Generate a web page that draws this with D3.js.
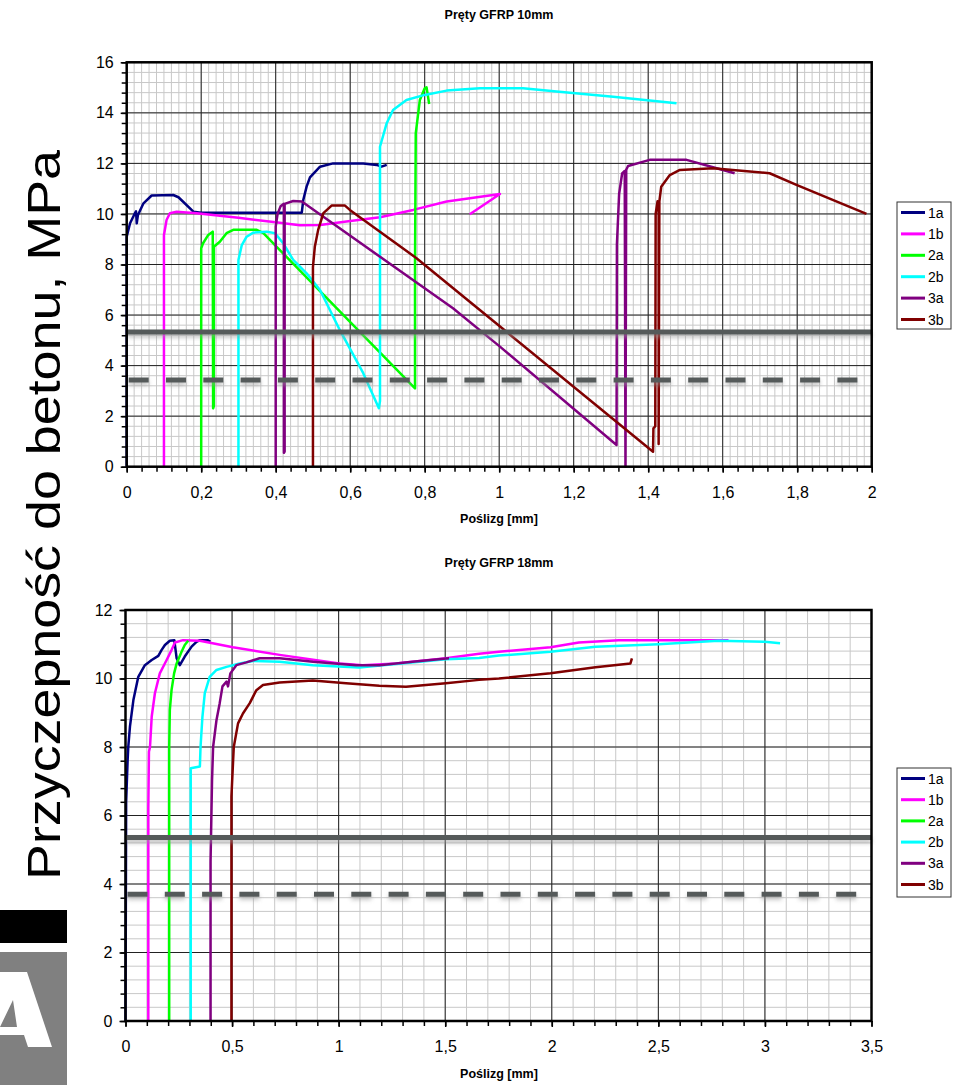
<!DOCTYPE html>
<html>
<head>
<meta charset="utf-8">
<script src="https://cdn.jsdelivr.net/npm/d3@7"></script>
<style>
  body { margin: 0; background: #fff; }
  svg { display: block; font-family: "Liberation Sans", Arial, sans-serif; }
</style>
</head>
<body>
<svg id="fig" width="965" height="1085"></svg>
<script>
var seriesNames = ["1a", "1b", "2a", "2b", "3a", "3b"];
var seriesColors = ["#000080", "#ff00ff", "#00ff00", "#00ffff", "#800080", "#800000"];

// Pręty GFRP 10mm  [slip mm, bond MPa]
var top1a = [[0,0],[0,9.1],[0.009,9.63],[0.022,10.03],[0.025,10.1],[0.027,9.63],[0.03,9.95],[0.045,10.42],[0.067,10.73],[0.125,10.75],[0.139,10.66],[0.179,10.09],[0.2,10.05],[0.47,10.05],[0.474,10.55],[0.483,11.08],[0.492,11.45],[0.519,11.87],[0.554,12.0],[0.635,12.0],[0.671,11.94],[0.684,11.87],[0.698,11.94]];
var top1b = [[0.1,0],[0.1,9.17],[0.107,9.76],[0.116,10.03],[0.134,10.09],[0.188,10.03],[0.3,9.85],[0.4,9.67],[0.465,9.55],[0.519,9.56],[0.59,9.7],[0.68,9.87],[0.769,10.16],[0.859,10.49],[0.95,10.68],[1.002,10.79],[0.921,9.99]];
var top2a = [[0.2,0],[0.2,8.64],[0.205,8.84],[0.219,9.17],[0.231,9.3],[0.232,2.31],[0.234,2.4],[0.234,8.7],[0.25,8.9],[0.268,9.24],[0.286,9.37],[0.349,9.37],[0.367,9.24],[0.402,8.71],[0.774,3.1],[0.774,8],[0.776,13.19],[0.787,14.51],[0.8,14.97],[0.805,15.01],[0.812,14.35]];
var top2b = [[0.3,0],[0.3,8.18],[0.309,8.77],[0.322,9.1],[0.34,9.26],[0.376,9.3],[0.398,9.24],[0.42,8.84],[0.447,8.18],[0.483,7.65],[0.519,6.99],[0.572,5.41],[0.635,3.7],[0.677,2.31],[0.68,2.6],[0.68,12.66],[0.698,13.59],[0.715,14.11],[0.751,14.51],[0.8,14.71],[0.859,14.88],[0.948,14.97],[1.064,14.97],[1.154,14.84],[1.306,14.64],[1.476,14.38]];
var top3a = [[0.4,0],[0.4,9.5],[0.405,10.0],[0.413,10.3],[0.422,10.4],[0.422,0.55],[0.424,0.6],[0.424,10.4],[0.447,10.51],[0.47,10.49],[0.876,6.27],[1.002,4.75],[1.315,0.86],[1.316,8.8],[1.322,10.8],[1.33,11.6],[1.337,11.7],[1.339,0],[1.341,11.75],[1.346,11.9],[1.404,12.14],[1.503,12.14],[1.574,11.85],[1.632,11.61]];
var top3b = [[0.5,0],[0.5,7.9],[0.505,8.7],[0.514,9.37],[0.528,10.03],[0.55,10.33],[0.586,10.33],[0.599,10.16],[0.778,8.25],[0.948,6.2],[1.413,0.59],[1.414,1.52],[1.419,1.6],[1.42,10.0],[1.425,10.5],[1.428,10.4],[1.428,0.9],[1.43,10.5],[1.435,11.08],[1.458,11.54],[1.485,11.74],[1.574,11.81],[1.726,11.61],[1.798,11.15],[1.986,10.0]];

// Pręty GFRP 18mm
var bot1a = [[0,0],[0.003,6.4],[0.01,7.62],[0.013,8.0],[0.021,8.6],[0.037,9.37],[0.06,10.05],[0.091,10.39],[0.123,10.54],[0.154,10.66],[0.169,10.83],[0.185,10.98],[0.208,11.1],[0.229,11.12],[0.235,10.83],[0.24,10.59],[0.255,10.39],[0.278,10.64],[0.31,10.93],[0.333,11.07],[0.349,11.12],[0.387,11.12],[0.398,11.07]];
var bot1b = [[0.107,0],[0.107,6.2],[0.11,7.86],[0.115,8.0],[0.123,8.89],[0.138,9.57],[0.161,10.15],[0.193,10.54],[0.216,10.83],[0.232,11.05],[0.27,11.12],[0.349,11.1],[0.504,10.91],[0.723,10.69],[1.004,10.44],[1.113,10.39],[1.269,10.44],[1.503,10.59],[1.659,10.72],[1.752,10.78],[1.994,10.91],[2.127,11.05],[2.314,11.12],[2.829,11.12]];
var bot2a = [[0.205,0],[0.205,8.0],[0.208,9.08],[0.216,9.66],[0.228,10.15],[0.24,10.44],[0.263,10.78],[0.278,10.98],[0.294,11.1]];
var bot2b = [[0.306,0],[0.306,7.38],[0.349,7.43],[0.352,8.0],[0.361,8.89],[0.372,9.57],[0.395,10.05],[0.427,10.25],[0.474,10.34],[0.536,10.44],[0.598,10.51],[0.723,10.49],[0.879,10.39],[1.097,10.32],[1.269,10.42],[1.503,10.56],[1.659,10.6],[1.752,10.67],[1.994,10.78],[2.205,10.93],[2.501,11.0],[2.782,11.1],[3.0,11.07],[3.071,11.03]];
var bot3a = [[0.399,0],[0.399,4.65],[0.406,7.04],[0.411,8.0],[0.427,8.79],[0.442,9.28],[0.455,9.77],[0.474,9.91],[0.481,9.77],[0.492,10.15],[0.52,10.39],[0.567,10.47],[0.629,10.59],[0.723,10.59],[0.879,10.49],[1.082,10.39],[1.191,10.39],[1.347,10.49],[1.518,10.59]];
var bot3b = [[0.497,0],[0.497,6.55],[0.505,7.62],[0.508,8.0],[0.528,8.69],[0.551,8.98],[0.583,9.28],[0.614,9.66],[0.645,9.81],[0.723,9.88],[0.879,9.94],[1.035,9.86],[1.191,9.79],[1.316,9.76],[1.503,9.86],[1.659,9.96],[1.752,10.0],[1.994,10.15],[2.205,10.33],[2.369,10.44],[2.376,10.59]];

var topXTicks = [0, 0.2, 0.4, 0.6, 0.8, 1, 1.2, 1.4, 1.6, 1.8, 2];
var topYTicks = [0, 2, 4, 6, 8, 10, 12, 14, 16];
var botXTicks = [0, 0.5, 1, 1.5, 2, 2.5, 3, 3.5];
var botYTicks = [0, 2, 4, 6, 8, 10, 12];

// limit lines (solid, dashed) MPa
var topLimits = [5.33, 3.43];
var botLimits = [5.36, 3.7];

var svg = d3.select("#fig");

var defs = svg.append("defs");
var blur = defs.append("filter").attr("id", "blur")
    .attr("filterUnits", "userSpaceOnUse")
    .attr("x", 0).attr("y", 0).attr("width", 965).attr("height", 1085);
blur.append("feGaussianBlur").attr("stdDeviation", 2);

function comma(d) {
  return String(d).replace(".", ",");
}

function drawPanel(o) {
  var x = d3.scaleLinear().domain([0, o.xMax]).range([o.left, o.right]);
  var y = d3.scaleLinear().domain([0, o.yMax]).range([o.bottom, o.top]);
  var g = svg.append("g");

  // minor grid
  var xm = d3.range(0, o.xMax + 1e-9, o.xGrid);
  var ym = d3.range(0, o.yMax + 1e-9, 0.4);
  g.selectAll(".vx").data(xm).enter().append("line")
    .attr("x1", d => x(d)).attr("x2", d => x(d))
    .attr("y1", o.top).attr("y2", o.bottom)
    .attr("stroke", "#c8c8c8").attr("stroke-width", 1);
  g.selectAll(".hy").data(ym).enter().append("line")
    .attr("x1", o.left).attr("x2", o.right)
    .attr("y1", d => y(d)).attr("y2", d => y(d))
    .attr("stroke", "#c8c8c8").attr("stroke-width", 1);
  // major grid
  g.selectAll(".mx").data(o.xTicks).enter().append("line")
    .attr("x1", d => x(d)).attr("x2", d => x(d))
    .attr("y1", o.top).attr("y2", o.bottom)
    .attr("stroke", "#222").attr("stroke-width", 1);
  g.selectAll(".my").data(o.yTicks).enter().append("line")
    .attr("x1", o.left).attr("x2", o.right)
    .attr("y1", d => y(d)).attr("y2", d => y(d))
    .attr("stroke", "#222").attr("stroke-width", 1);

  // series
  var line = d3.line().x(d => x(d[0])).y(d => y(d[1]));
  o.series.forEach(function(s, i) {
    g.append("path").datum(s)
      .attr("d", line)
      .attr("fill", "none")
      .attr("stroke", seriesColors[i])
      .attr("stroke-width", 2.5)
      .attr("stroke-linejoin", "round");
  });

  // limit lines with soft shadow, drawn over the curves
  [[0, null], [1, "20,17.3"]].forEach(function(p) {
    var yy = y(o.limits[p[0]]);
    var x1 = p[1] ? o.left + 2 : o.left;
    var x2 = p[1] ? o.left + 732 : o.right;
    g.append("line")
      .attr("x1", x1).attr("x2", x2).attr("y1", yy + 3).attr("y2", yy + 3)
      .attr("stroke", "#9a9a9a").attr("stroke-width", 5).attr("opacity", 0.6)
      .attr("stroke-dasharray", p[1])
      .attr("filter", "url(#blur)");
    g.append("line")
      .attr("x1", x1).attr("x2", x2).attr("y1", yy).attr("y2", yy)
      .attr("stroke", "#555a5a").attr("stroke-width", 5)
      .attr("stroke-dasharray", p[1]);
  });

  // frame
  g.append("rect")
    .attr("x", o.left).attr("y", o.top)
    .attr("width", o.right - o.left).attr("height", o.bottom - o.top)
    .attr("fill", "none").attr("stroke", "#000").attr("stroke-width", 2.5);

  // axes
  var yAxis = g.append("g").attr("transform", "translate(" + o.left + ",0)")
    .call(d3.axisLeft(y).tickValues(ym).tickSize(5).tickFormat(""));
  var yLab = g.append("g").attr("transform", "translate(" + o.left + ",0)")
    .call(d3.axisLeft(y).tickValues(o.yTicks).tickSize(6).tickPadding(7).tickFormat(comma));
  var xAxis = g.append("g").attr("transform", "translate(0," + o.bottom + ")")
    .call(d3.axisBottom(x).tickValues(d3.range(0, o.xMax + 1e-9, o.xTickStep)).tickSize(5).tickFormat(""));
  var xLab = g.append("g").attr("transform", "translate(0," + o.bottom + ")")
    .call(d3.axisBottom(x).tickValues(o.xTicks).tickSize(6).tickPadding(14).tickFormat(comma));
  [yAxis, yLab, xAxis, xLab].forEach(function(a) {
    a.select(".domain").remove();
    a.selectAll(".tick line").attr("stroke", "#000").attr("stroke-width", 1.5);
    a.selectAll("text").attr("font-size", 16).attr("fill", "#000")
      .attr("font-family", "'Liberation Sans', Arial, sans-serif");
  });

  // titles
  g.append("text").attr("x", 499).attr("y", o.titleY)
    .attr("text-anchor", "middle").attr("font-size", 12.5).attr("font-weight", "bold")
    .text(o.title);
  g.append("text").attr("x", 499).attr("y", o.xLabelY)
    .attr("text-anchor", "middle").attr("font-size", 12.5).attr("font-weight", "bold")
    .text("Poślizg [mm]");

  // legend
  var lg = g.append("g").attr("transform", "translate(" + o.legend[0] + "," + o.legend[1] + ")");
  lg.append("rect").attr("x", 0).attr("y", 0).attr("width", 54).attr("height", o.legend[2])
    .attr("fill", "#fff").attr("stroke", "#333").attr("stroke-width", 1);
  seriesNames.forEach(function(n, i) {
    var yy = 10.5 + i * o.legend[3];
    lg.append("line").attr("x1", 4).attr("x2", 28).attr("y1", yy).attr("y2", yy)
      .attr("stroke", seriesColors[i]).attr("stroke-width", 3);
    lg.append("text").attr("x", 31).attr("y", yy + 5).attr("font-size", 14)
      .attr("fill", "#000").text(n);
  });
}

drawPanel({
  left: 126.7, right: 871.7, top: 62.3, bottom: 466.7,
  xMax: 2, yMax: 16, xGrid: 0.02, xTickStep: 0.04,
  xTicks: topXTicks, yTicks: topYTicks,
  series: [top1a, top1b, top2a, top2b, top3a, top3b],
  limits: topLimits,
  title: "Pręty GFRP 10mm", titleY: 19, xLabelY: 523,
  legend: [897, 202, 127, 21.4]
});

drawPanel({
  left: 125.5, right: 871.5, top: 610, bottom: 1021,
  xMax: 3.5, yMax: 12, xGrid: 0.1, xTickStep: 0.1,
  xTicks: botXTicks, yTicks: botYTicks,
  series: [bot1a, bot1b, bot2a, bot2b, bot3a, bot3b],
  limits: botLimits,
  title: "Pręty GFRP 18mm", titleY: 567, xLabelY: 1078,
  legend: [897, 768, 129, 21.2]
});

// shared y label
svg.append("text")
  .attr("transform", "translate(60,515) rotate(-90)")
  .attr("text-anchor", "middle")
  .attr("font-size", 46)
  .attr("textLength", 730)
  .attr("lengthAdjust", "spacingAndGlyphs")
  .attr("fill", "#000")
  .text("Przyczepność do betonu, MPa");

// logo fragment bottom-left
svg.append("rect").attr("x", 0).attr("y", 910).attr("width", 67).attr("height", 33).attr("fill", "#000");
svg.append("rect").attr("x", 0).attr("y", 952).attr("width", 67).attr("height", 133).attr("fill", "#808080");
svg.append("path")
  .attr("d", "M0,972 L27,972 L52,1047 L28,1047 L24,1035 L0,1035 Z M0,1027 L13,1000 L17,1027 Z")
  .attr("fill", "#fff").attr("fill-rule", "evenodd");
</script>
</body>
</html>
